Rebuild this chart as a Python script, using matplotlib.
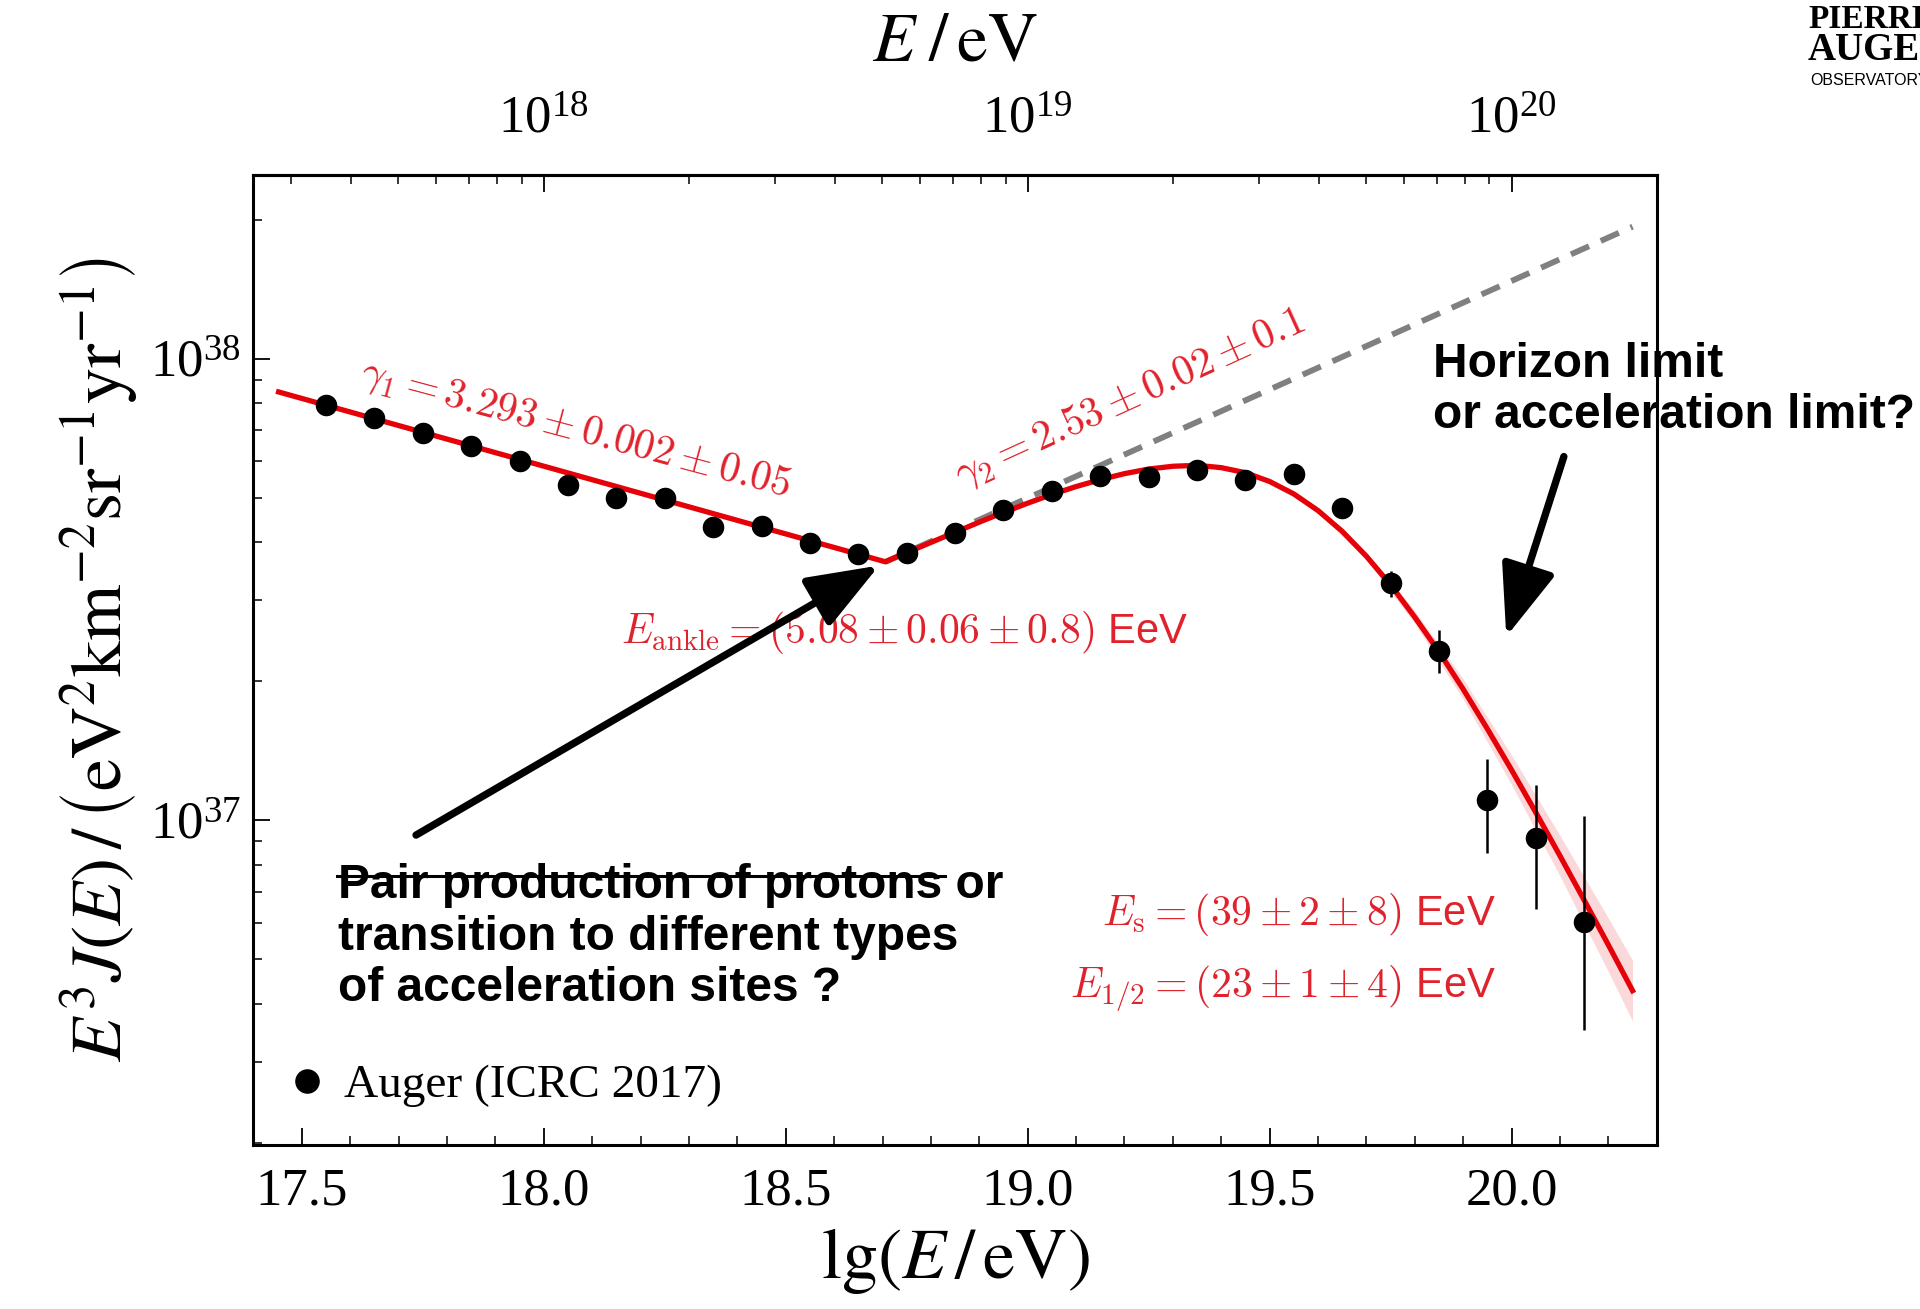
"""
Auger spectrum (ICRC 2017) with broken power-law + suppression fit, annotated.
"""
import numpy as np
import matplotlib
matplotlib.use("Agg")
import matplotlib.pyplot as plt
from matplotlib.ticker import FixedLocator, NullFormatter, LogLocator
from matplotlib.lines import Line2D

plt.rcParams.update({
    "font.family": "Liberation Serif",
    "mathtext.fontset": "custom",
    "mathtext.rm": "Liberation Serif",
    "mathtext.it": "Liberation Serif:italic",
    "mathtext.bf": "Liberation Serif:bold",
    "axes.linewidth": 2.2,
})

RED = "#e60008"
TXT_RED = "#e0222c"

# data points: lg(E/eV) and E^3 J(E) in units of 1e37
lg_e = [17.55, 17.65, 17.75, 17.85, 17.95, 18.05, 18.15, 18.25, 18.35, 18.45,
        18.55, 18.65, 18.75, 18.85, 18.95, 19.05, 19.15, 19.25, 19.35, 19.45,
        19.55, 19.65, 19.75, 19.85, 19.95, 20.05, 20.15]
flux = [7.94, 7.45, 6.89, 6.47, 6.01, 5.33, 4.99, 4.99, 4.32, 4.35,
        3.98, 3.78, 3.80, 4.19, 4.69, 5.18, 5.56, 5.53, 5.75, 5.46,
        5.62, 4.75, 3.27, 2.33, 1.107, 0.914, 0.601]
err_lo = [0] * 22 + [0.22, 0.25, 0.258, 0.273, 0.25]
err_hi = [0] * 22 + [0.19, 0.26, 0.253, 0.276, 0.42]

# fitted curve: lg(E/eV) and log10(E^3 J)
fit_lg = [17.452, 18.706, 18.75, 18.8, 18.85, 18.9, 18.95, 19.0, 19.05, 19.1,
          19.15, 19.2, 19.25, 19.3, 19.35, 19.4, 19.45, 19.5, 19.55, 19.6,
          19.65, 19.7, 19.75, 19.8, 19.85, 19.9, 19.95, 20.0, 20.05, 20.1,
          20.15, 20.2, 20.25]
fit_log = [37.928, 37.560, 37.580, 37.602, 37.624, 37.646, 37.667, 37.687, 37.706, 37.723,
           37.738, 37.751, 37.761, 37.767, 37.769, 37.764, 37.753, 37.734, 37.707, 37.671,
           37.626, 37.572, 37.510, 37.440, 37.365, 37.284, 37.198, 37.109, 37.017, 36.923,
           36.827, 36.730, 36.631]
band_lg = [19.5, 19.6, 19.7, 19.8, 19.9, 20.0, 20.1, 20.2, 20.25]
band_log = [37.734, 37.671, 37.572, 37.440, 37.284, 37.109, 36.923, 36.730, 36.631]
band_hw = [0.0, 0.004, 0.008, 0.014, 0.022, 0.032, 0.044, 0.058, 0.066]

# gamma_2 power-law extrapolation
ext_lg = [18.706, 20.25]
ext_log = [37.560, 38.286]

E = 1e37

fig = plt.figure(figsize=(19.2, 13.09), dpi=100)
ax = fig.add_axes([0.1320, 0.1253, 0.7309, 0.7410])

ax.plot(ext_lg, 10 ** np.array(ext_log), color="#808080", lw=4.2,
        dashes=(3.4, 2.2), zorder=2)
bl = np.array(band_log)
hw = np.array(band_hw)
ax.fill_between(band_lg, 10 ** (bl - hw), 10 ** (bl + hw), color=RED,
                alpha=0.15, lw=0, zorder=2)
ax.plot(fit_lg, 10 ** np.array(fit_log), color=RED, lw=3.8, zorder=3,
        solid_joinstyle="round")

y = np.array(flux) * E
ax.errorbar(lg_e, y, yerr=[np.array(err_lo) * E, np.array(err_hi) * E],
            fmt="none", ecolor="k", elinewidth=1.8, capsize=0, zorder=4)
ax.plot(lg_e, y, "o", color="k", ms=14.5, ls="", zorder=5,
        label="Auger (ICRC 2017)")

ax.set_yscale("log")
ax.set_xlim(17.4, 20.3)
ax.set_ylim(1.98e36, 2.5e38)

ax.xaxis.set_major_locator(FixedLocator([17.5, 18.0, 18.5, 19.0, 19.5, 20.0]))
ax.set_xticklabels(["17.5", "18.0", "18.5", "19.0", "19.5", "20.0"])
ax.xaxis.set_minor_locator(FixedLocator(np.arange(17.5, 20.3, 0.1)))
ax.yaxis.set_major_locator(LogLocator(base=10))
ax.yaxis.set_minor_locator(LogLocator(base=10, subs=np.arange(2, 10)))
ax.yaxis.set_minor_formatter(NullFormatter())
ax.tick_params(axis="x", which="major", direction="in", length=12, width=1.3,
               labelsize=38, pad=16, top=False)
ax.tick_params(axis="x", which="minor", direction="in", length=6.5, width=1.1,
               top=False)
ax.tick_params(axis="y", which="major", direction="in", length=12, width=1.3,
               labelsize=38, pad=9, right=False)
ax.tick_params(axis="y", which="minor", direction="in", length=6.5, width=1.1,
               right=False)

sec = ax.secondary_xaxis("top")
sec.set_xticks([18, 19, 20], labels=[r"$10^{18}$", r"$10^{19}$", r"$10^{20}$"])
minor_top = np.log10(np.outer(10.0 ** np.arange(17, 21), np.arange(2, 10)).ravel())
sec.set_xticks(minor_top[(minor_top > 17.4) & (minor_top < 20.3)], minor=True)
sec.tick_params(which="major", direction="in", length=12, width=1.3,
                labelsize=38, pad=22)
sec.tick_params(which="minor", direction="in", length=6.5, width=1.1)
sec.set_xlabel(r"$E\;/\,\mathrm{eV}$", fontsize=50, labelpad=26,
               math_fontfamily="stix")

ax.set_xlabel(r"$\mathrm{lg}\left(E\,/\,\mathrm{eV}\right)$", fontsize=52,
              labelpad=8, math_fontfamily="stix")
ax.set_ylabel(r"$E^3J(E)\,/\,\left(\mathrm{eV}^2\mathrm{km}^{-2}\mathrm{sr}^{-1}"
              r"\mathrm{yr}^{-1}\right)$", fontsize=52, labelpad=8,
              math_fontfamily="stix")

ax.legend(loc="lower left", frameon=False, fontsize=34, handlelength=0.68,
          handletextpad=0.43, markerscale=1.15, borderaxespad=0.4, borderpad=0.4)

# fit parameter labels
red_kw = dict(color=TXT_RED, fontsize=30, math_fontfamily="cm",
              family="Liberation Sans", zorder=6)
ax.text(17.6176, 10 ** 37.9497, r"$\gamma_1 = 3.293 \pm 0.002 \pm 0.05$",
        rotation=-15, rotation_mode="anchor", ha="left", va="baseline", **red_kw)
ax.text(18.8625, 10 ** 37.7214, r"$\gamma_2 = 2.53 \pm 0.02 \pm 0.1$",
        rotation=24.5, rotation_mode="anchor", ha="left", va="baseline", **red_kw)
ax.text(18.159, 10 ** 37.3845, r"$E_\mathrm{ankle} = (5.08 \pm 0.06 \pm 0.8)$ EeV",
        ha="left", va="baseline", **red_kw)
ax.text(19.968, 10 ** 36.7734, r"$E_\mathrm{s} = (39 \pm 2 \pm 8)$ EeV",
        ha="right", va="baseline", **red_kw)
ax.text(19.968, 10 ** 36.618, r"$E_{1/2} = (23 \pm 1 \pm 4)$ EeV",
        ha="right", va="baseline", **red_kw)

# black annotations (anchored at the baseline of the last line)
note_kw = dict(fontsize=34.5, family="Liberation Sans", weight="bold",
               color="k", ha="left", va="baseline", linespacing=1.19, zorder=8,
               clip_on=False)
ax.text(19.838, 10 ** 37.849, "Horizon limit\nor acceleration limit?", **note_kw)
pair_x, pair_log = 17.574, 36.6075
pair = ax.text(pair_x, 10 ** pair_log,
               "Pair production of protons or\ntransition to different types\n"
               "of acceleration sites ?", **note_kw)

arrow = dict(arrowstyle="-|>,head_length=1.1,head_width=0.42", lw=5.3,
             color="k", mutation_scale=40, shrinkA=0, shrinkB=0)
ax.annotate("", xy=(18.693, 10 ** 37.552), xytext=(17.736, 10 ** 36.968),
            arrowprops=arrow, zorder=9)
ax.annotate("", xy=(19.989, 10 ** 37.398), xytext=(20.108, 10 ** 37.788),
            arrowprops=arrow, zorder=9)

# strike through "Pair production of protons" on the first line
fig.canvas.draw()
r = fig.canvas.get_renderer()
main_bb = pair.get_window_extent(r)
probe = ax.text(pair_x, 10 ** pair_log, "Pair production of protons", **note_kw)
bb = probe.get_window_extent(r)
probe.remove()
probe_base = ax.transData.transform((pair_x, 10 ** pair_log))[1]
first_base = main_bb.y1 - (bb.y1 - probe_base)
fs_px = 34.5 * fig.dpi / 72
sy = first_base + 0.46 * fs_px
p0 = fig.transFigure.inverted().transform((bb.x0 - 1, sy))
p1 = fig.transFigure.inverted().transform((bb.x1 + 3, sy))
fig.add_artist(Line2D([p0[0], p1[0]], [p0[1], p1[1]], color="k", lw=2.2, zorder=10))

# observatory logo, cut at the right edge like the original
fig.text(0.9417, 0.9786, "PIERRE", family="Liberation Serif", weight="bold",
         fontsize=24, va="baseline")
fig.text(0.9417, 0.9542, "AUGER", family="Liberation Serif", weight="bold",
         fontsize=28, va="baseline")
fig.text(0.9427, 0.935, "OBSERVATORY", family="Liberation Sans", fontsize=11.5,
         va="baseline")

fig.savefig("out.png", dpi=100, facecolor="white")
